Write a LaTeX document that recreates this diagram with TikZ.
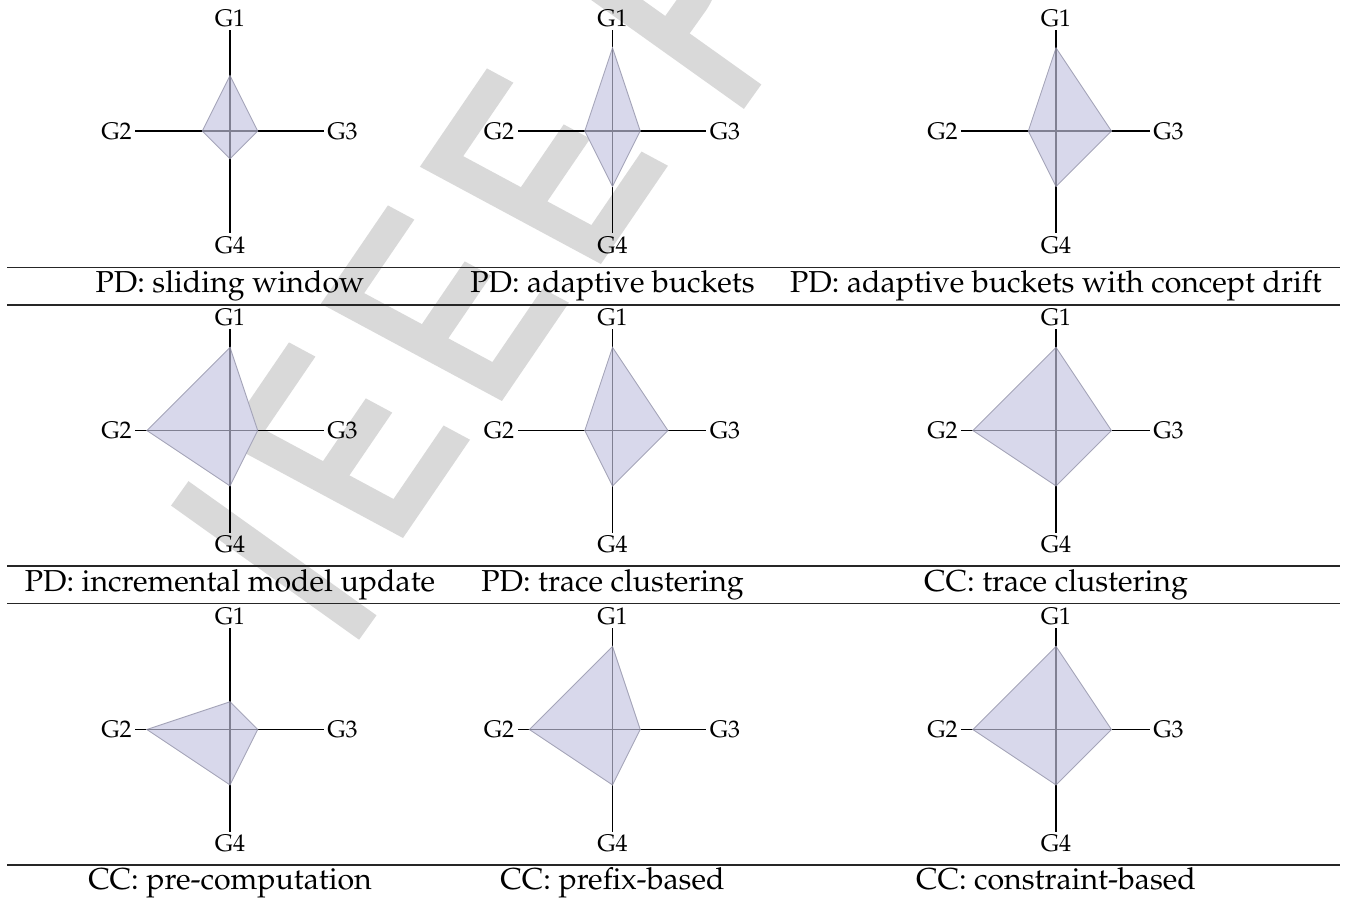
\documentclass[tikz,border=0pt]{standalone}
\usepackage[T1]{fontenc}
\renewcommand{\rmdefault}{ppl}
\usetikzlibrary{calc}
\definecolor{wmgray}{RGB}{217,217,217}
\definecolor{polyfill}{RGB}{216,216,235}
\definecolor{polyedge}{RGB}{165,165,185}
\definecolor{inaxis}{RGB}{128,128,146}
\newcommand{\radarU}{27.7}
\tikzset{
  axlabel/.style={inner sep=1.5pt, font=\fontsize{12}{14}\selectfont},
  captext/.style={anchor=base, inner sep=0pt, font=\fontsize{15.15}{17}\selectfont},
  axisline/.style={line width=0.6pt, black},
  polyshape/.style={fill=polyfill, draw=polyedge, line width=0.45pt, line join=miter},
  inneraxis/.style={line width=0.55pt, inaxis},
  tablerule/.style={line width=0.75pt, black!85},
  wmark/.style={fill=wmgray},
}
\newcommand{\radarchart}[7]{%
  \coordinate (#1c) at (#2,#3);
  \node[axlabel] (#1g1) at ($(#1c)+(0,-113)$) {G1};
  \node[axlabel] (#1g2) at ($(#1c)+(-113.5,0)$) {G2};
  \node[axlabel] (#1g3) at ($(#1c)+(112.5,0)$) {G3};
  \node[axlabel] (#1g4) at ($(#1c)+(0,114)$) {G4};
  \draw[axisline] (#1c) -- (#1g1);
  \draw[axisline] (#1c) -- (#1g2);
  \draw[axisline] (#1c) -- (#1g3);
  \draw[axisline] (#1c) -- (#1g4);
  \coordinate (#1p1) at ($(#1c)+(0,{-#4*\radarU})$);
  \coordinate (#1p2) at ($(#1c)+({-#5*\radarU},0)$);
  \coordinate (#1p3) at ($(#1c)+({#6*\radarU},0)$);
  \coordinate (#1p4) at ($(#1c)+(0,{#7*\radarU})$);
  \draw[polyshape] (#1p1) -- (#1p3) -- (#1p4) -- (#1p2) -- cycle;
  \draw[inneraxis] (#1p1) -- (#1p4) (#1p2) -- (#1p3);
}
\begin{document}
\begin{tikzpicture}[x=0.5pt,y=-0.5pt]
\useasboundingbox (0,0) rectangle (1348,898);
% watermark
\begin{scope}
  \clip (0,0) rectangle (1348,898);
  % I and P
  \begin{scope}[cm={0.5807,0.8141,0.8141,-0.5807,(414.5,572.4)}]
    \fill[wmark] (-87,6) rectangle (-57,237);
    \fill[wmark] (568.6,1) rectangle (598.6,236);
    \fill[wmark,even odd rule] (598,236) -- (625,236) .. controls (665.6,236) and (698.5,203.1) .. (698.5,162.5) .. controls (698.5,121.9) and (665.6,89) .. (625,89) -- (598,89) -- cycle
      (598,206) -- (625,206) .. controls (649,206) and (668.5,186.5) .. (668.5,162.5) .. controls (668.5,138.5) and (649,119) .. (625,119) -- (598,119) -- cycle;
  \end{scope}
  % the three E
  \begin{scope}[cm={0.563,0.826,0.8808,-0.4735,(403,538)}]
    \foreach \os/\ot in {0/0,168.5/-4.6,337/-9.3}{
      \fill[wmark,shift={(\os,\ot)}] (0,0) -- (119,0) -- (119,30) -- (30,30) -- (30,80) -- (106,80) -- (106,110) -- (30,110) -- (30,175.5) -- (119,175.5) -- (119,205.5) -- (0,205.5) -- cycle;
    }
  \end{scope}
\end{scope}
% table rules
\draw[tablerule] (7.3,267.7) -- (1340,267.7);
\draw[tablerule] (7.3,305) -- (1340,305);
\draw[tablerule] (7.3,566) -- (1340,566);
\draw[tablerule] (7.3,603.5) -- (1340,603.5);
\draw[tablerule] (7.3,865) -- (1340,865);
% charts
\radarchart{a}{230}{131}{2}{1}{1}{1}
\radarchart{b}{612.5}{131}{3}{1}{1}{2}
\radarchart{c}{1056}{131}{3}{1}{2}{2}
\radarchart{d}{230}{430.5}{3}{3}{1}{2}
\radarchart{e}{612.5}{430.5}{3}{1}{2}{2}
\radarchart{f}{1056}{430.5}{3}{3}{2}{2}
\radarchart{g}{230}{729.5}{1}{3}{1}{2}
\radarchart{h}{612.5}{729.5}{3}{3}{1}{2}
\radarchart{i}{1056}{729.5}{3}{3}{2}{2}
% captions
\node[captext] (capa) at (230,293) {PD: sliding window};
\node[captext] (capb) at (612.5,293) {PD: adaptive buckets};
\node[captext] (capc) at (1056,293) {PD: adaptive buckets with concept drift};
\node[captext] (capd) at (230,591.5) {PD: incremental model update};
\node[captext] (cape) at (612.5,591.5) {PD: trace clustering};
\node[captext] (capf) at (1056,591.5) {CC: trace clustering};
\node[captext] (capg) at (230,889.3) {CC: pre-computation};
\node[captext] (caph) at (612.5,889.3) {CC: prefix-based};
\node[captext] (capi) at (1056,889.3) {CC: constraint-based};
\end{tikzpicture}
\end{document}
